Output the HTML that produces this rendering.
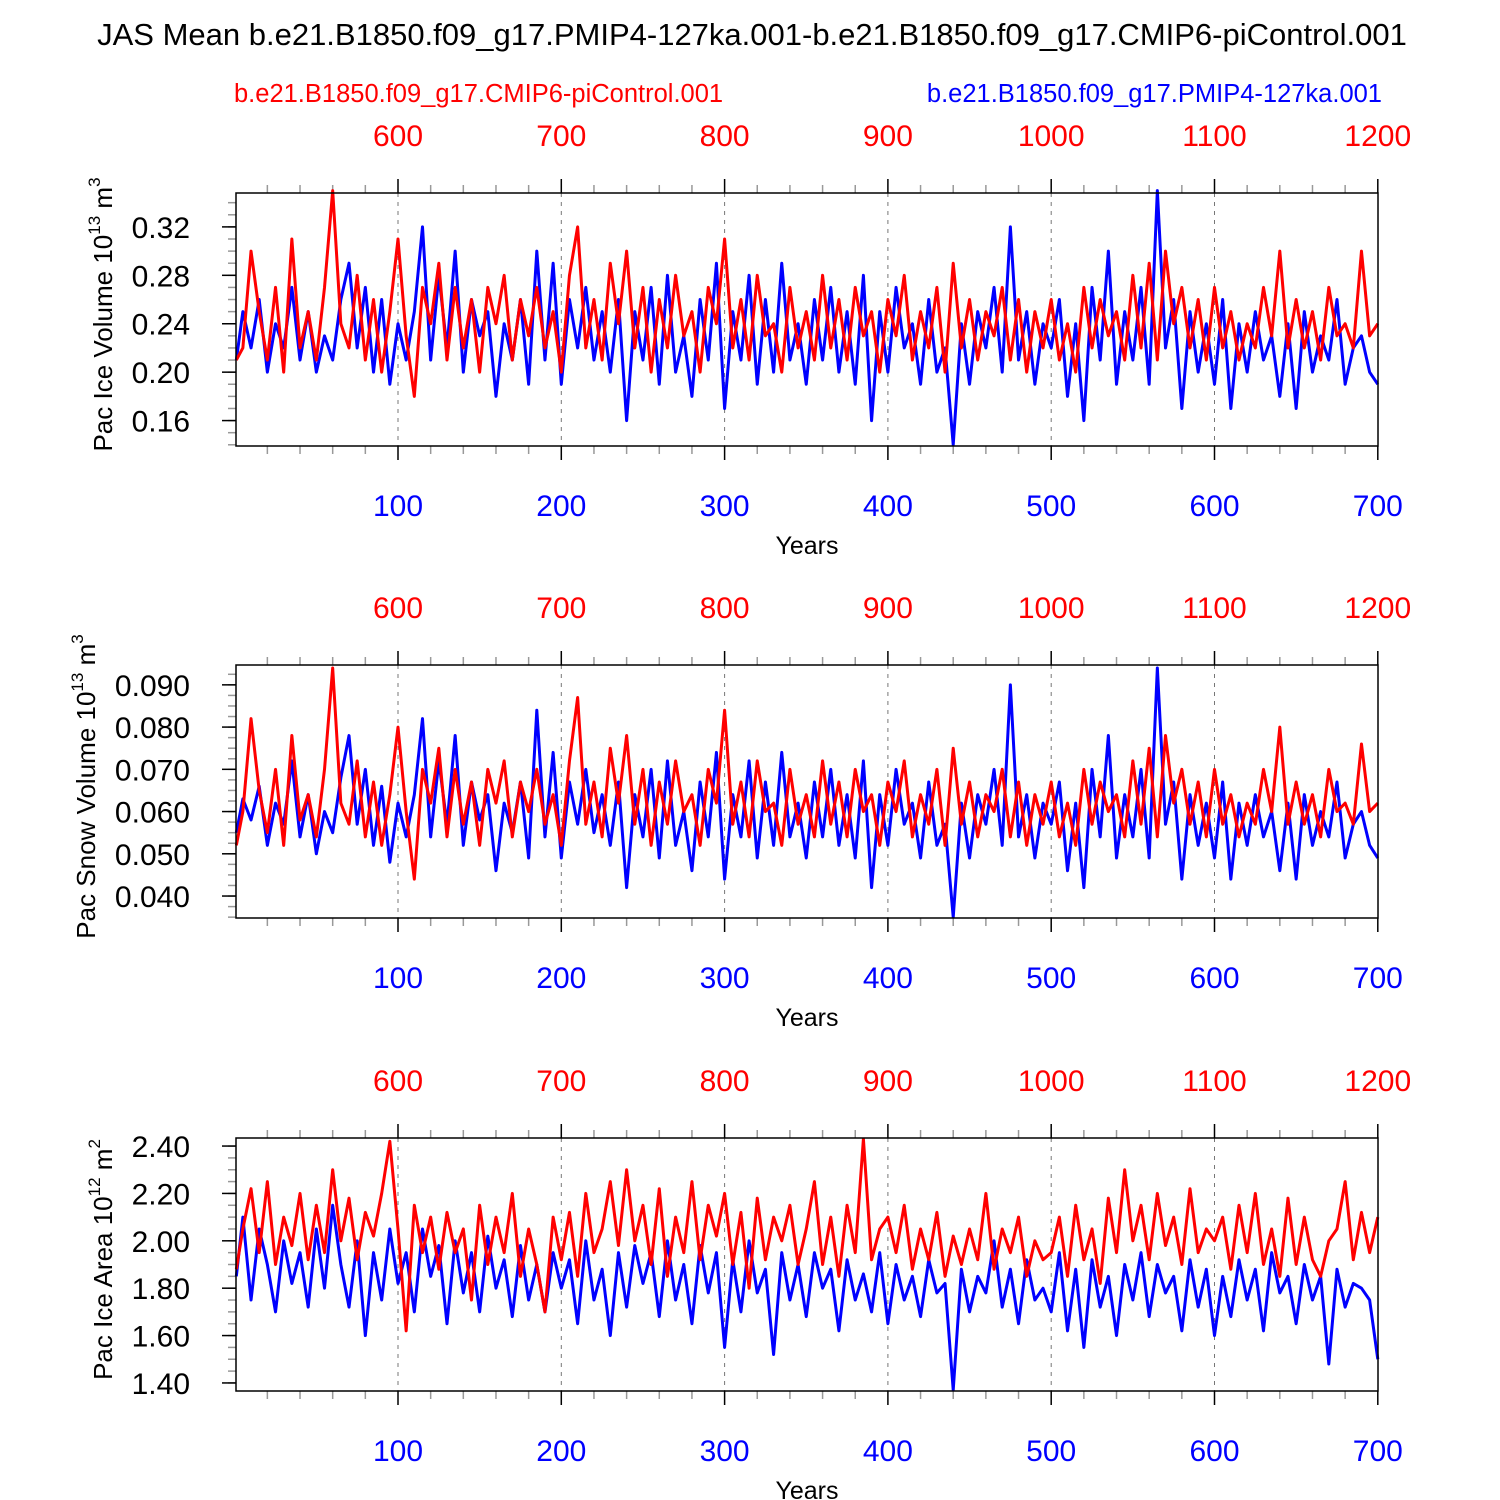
<!DOCTYPE html>
<html><head><meta charset="utf-8"><style>html,body{margin:0;padding:0;background:#fff}svg{display:block}text{font-family:"Liberation Sans",sans-serif}</style></head>
<body>
<svg id="chart" width="1500" height="1500" viewBox="0 0 1500 1500" xmlns="http://www.w3.org/2000/svg">
<text x="752" y="45" font-size="31" text-anchor="middle">JAS Mean b.e21.B1850.f09_g17.PMIP4-127ka.001-b.e21.B1850.f09_g17.CMIP6-piControl.001</text>
<text x="234" y="102" font-size="25.5" fill="#f00">b.e21.B1850.f09_g17.CMIP6-piControl.001</text>
<text x="1382" y="102" font-size="25.5" fill="#00f" text-anchor="end">b.e21.B1850.f09_g17.PMIP4-127ka.001</text>
<g id="panels"></g>
</svg>
<script>
const blueTicks=[100,200,300,400,500,600,700];
const redTicks=[600,700,800,900,1000,1100,1200];
const ice1Blue=[.21,.25,.22,.26,.20,.24,.22,.27,.21,.25,.20,.23,.21,.26,.29,.22,.27,.20,.26,.19,.24,.21,.25,.32,.21,.28,.22,.30,.20,.26,.23,.25,.18,.24,.21,.26,.19,.30,.21,.29,.19,.26,.22,.27,.21,.25,.20,.26,.16,.25,.21,.27,.19,.28,.20,.23,.18,.26,.21,.29,.17,.25,.21,.28,.19,.26,.20,.29,.21,.24,.19,.26,.21,.27,.20,.25,.19,.28,.16,.25,.20,.27,.22,.24,.19,.26,.20,.22,.14,.24,.19,.25,.22,.27,.20,.32,.21,.25,.19,.24,.22,.26,.18,.24,.16,.27,.21,.30,.19,.25,.21,.27,.19,.35,.22,.26,.17,.25,.20,.24,.19,.26,.17,.24,.20,.25,.21,.23,.18,.24,.17,.25,.20,.23,.21,.26,.19,.22,.23,.20,.19];
const ice1Red=[.21,.22,.30,.25,.21,.27,.20,.31,.22,.25,.21,.27,.35,.24,.22,.28,.21,.26,.20,.25,.31,.23,.18,.27,.24,.29,.21,.27,.22,.26,.20,.27,.24,.28,.21,.26,.23,.27,.22,.25,.20,.28,.32,.22,.26,.21,.29,.24,.30,.22,.27,.20,.26,.22,.28,.23,.25,.20,.27,.24,.31,.22,.26,.21,.28,.23,.24,.20,.27,.22,.25,.21,.28,.22,.26,.21,.27,.23,.25,.20,.26,.23,.28,.21,.25,.22,.27,.20,.29,.22,.26,.21,.25,.23,.27,.21,.26,.20,.25,.22,.26,.21,.24,.20,.27,.22,.26,.23,.25,.21,.28,.22,.29,.21,.30,.24,.27,.22,.26,.21,.27,.22,.25,.21,.24,.22,.27,.23,.30,.22,.26,.22,.25,.21,.27,.23,.24,.22,.30,.23,.24];
const snowBlue=[.055,.063,.058,.066,.052,.062,.057,.072,.054,.064,.050,.060,.055,.068,.078,.057,.070,.052,.066,.048,.062,.054,.064,.082,.054,.072,.057,.078,.052,.067,.058,.064,.046,.062,.055,.067,.049,.084,.054,.074,.049,.067,.057,.070,.055,.064,.052,.067,.042,.064,.054,.070,.049,.072,.052,.060,.046,.067,.054,.074,.044,.064,.054,.072,.049,.067,.052,.074,.054,.062,.049,.067,.054,.070,.052,.064,.049,.072,.042,.064,.052,.070,.057,.062,.049,.067,.052,.057,.035,.062,.049,.064,.057,.070,.052,.090,.054,.064,.049,.062,.057,.067,.046,.062,.042,.070,.054,.078,.049,.064,.054,.070,.049,.094,.057,.067,.044,.064,.052,.062,.049,.067,.044,.062,.052,.064,.054,.060,.046,.062,.044,.064,.052,.060,.054,.067,.049,.057,.060,.052,.049];
const snowRed=[.052,.060,.082,.065,.055,.070,.052,.078,.058,.064,.054,.070,.094,.062,.057,.072,.054,.067,.052,.064,.080,.060,.044,.070,.062,.075,.054,.070,.057,.067,.052,.070,.062,.072,.054,.067,.060,.070,.057,.064,.052,.072,.087,.057,.067,.054,.075,.062,.078,.057,.070,.052,.067,.057,.072,.060,.064,.052,.070,.062,.084,.057,.067,.054,.072,.060,.062,.052,.070,.057,.064,.054,.072,.057,.067,.054,.070,.060,.064,.052,.067,.060,.072,.054,.064,.057,.070,.052,.075,.057,.067,.054,.064,.060,.070,.054,.067,.052,.064,.057,.067,.054,.062,.052,.070,.057,.067,.060,.064,.054,.072,.057,.075,.054,.078,.062,.070,.057,.067,.054,.070,.057,.064,.054,.062,.057,.070,.060,.080,.057,.067,.057,.064,.054,.070,.060,.062,.057,.076,.060,.062];
const areaBlue=[1.85,2.10,1.75,2.05,1.90,1.70,2.00,1.82,1.95,1.72,2.05,1.80,2.15,1.90,1.72,2.00,1.60,1.95,1.75,2.05,1.82,1.95,1.70,2.05,1.85,1.98,1.65,2.00,1.78,1.95,1.70,2.02,1.80,1.92,1.68,1.98,1.75,1.90,1.70,1.95,1.80,1.92,1.65,2.00,1.75,1.88,1.60,1.95,1.72,1.98,1.82,1.95,1.68,2.00,1.75,1.90,1.65,1.98,1.78,1.95,1.55,1.92,1.70,2.00,1.78,1.88,1.52,1.95,1.75,1.90,1.68,1.95,1.80,1.88,1.62,1.92,1.75,1.86,1.70,1.95,1.65,1.90,1.75,1.85,1.68,1.92,1.78,1.82,1.37,1.88,1.70,1.85,1.78,2.00,1.72,1.88,1.65,1.92,1.75,1.80,1.70,1.95,1.62,1.88,1.55,1.92,1.72,1.85,1.60,1.90,1.75,1.95,1.68,1.90,1.78,1.85,1.62,1.92,1.72,1.88,1.60,1.85,1.68,1.92,1.75,1.88,1.62,1.95,1.78,1.85,1.65,1.90,1.75,1.85,1.48,1.88,1.72,1.82,1.80,1.75,1.50];
const areaRed=[1.88,2.05,2.22,1.95,2.25,1.90,2.10,1.98,2.20,1.92,2.15,1.95,2.30,2.00,2.18,1.92,2.12,2.02,2.20,2.42,2.05,1.62,2.15,1.95,2.10,1.88,2.12,1.95,2.05,1.75,2.15,1.90,2.10,1.95,2.20,1.85,2.05,1.90,1.70,2.10,1.92,2.12,1.85,2.20,1.95,2.05,2.25,1.98,2.30,2.00,2.15,1.90,2.22,1.85,2.10,1.95,2.25,1.92,2.15,2.02,2.20,1.90,2.12,1.80,2.18,1.92,2.10,2.00,2.15,1.90,2.05,2.25,1.90,2.10,1.85,2.15,1.95,2.43,1.92,2.05,2.10,1.95,2.15,1.88,2.05,1.92,2.12,1.85,2.02,1.90,2.05,1.92,2.20,1.88,2.05,1.95,2.10,1.85,2.00,1.92,1.95,2.10,1.85,2.15,1.92,2.05,1.82,2.18,1.95,2.30,2.00,2.15,1.92,2.20,1.98,2.10,1.90,2.22,1.95,2.05,2.00,2.10,1.88,2.15,1.95,2.20,1.90,2.05,1.85,2.18,1.90,2.10,1.92,1.85,2.00,2.05,2.25,1.92,2.12,1.95,2.10];
const ice1Ticks=[0.16,0.20,0.24,0.28,0.32];
const snowTicks=[0.040,0.050,0.060,0.070,0.080,0.090];
const areaTicks=[1.40,1.60,1.80,2.00,2.20,2.40];

const NS="http://www.w3.org/2000/svg";
const L=236,R=1378,H=253;
const X=y=>234.7+(y/100)*163.3;
function mk(tag,attrs,parent,txt){const e=document.createElementNS(NS,tag);for(const k in attrs)e.setAttribute(k,attrs[k]);if(txt!==undefined)e.textContent=txt;parent.appendChild(e);return e;}
const root=document.getElementById('panels');
const panels=[
 {top:193,min:0.139,max:0.348,ticks:ice1Ticks,minor:0.01,dec:2,blue:ice1Blue,red:ice1Red,lab:"Pac Ice Volume 10",sup:"13",unit:" m",usup:"3",name:"ice-volume",tx:112},
 {top:665,min:0.0348,max:0.0947,ticks:snowTicks,minor:0.0025,dec:3,blue:snowBlue,red:snowRed,lab:"Pac Snow Volume 10",sup:"13",unit:" m",usup:"3",name:"snow-volume",tx:95},
 {top:1138,min:1.366,max:2.434,ticks:areaTicks,minor:0.05,dec:2,blue:areaBlue,red:areaRed,lab:"Pac Ice Area 10",sup:"12",unit:" m",usup:"2",name:"ice-area",tx:112}
];
panels.forEach(p=>{
 const g=mk('g',{},root);
 
 
 const B=p.top+H;
 const Y=v=>B-(v-p.min)/(p.max-p.min)*H;
 blueTicks.slice(0,6).forEach(t=>{const l=mk('line',{x1:X(t),x2:X(t),y1:p.top,y2:B,stroke:'#777','stroke-width':1,'stroke-dasharray':'4,5'},g);});
 for(let t=20;t<=700;t+=20){if(t%100===0)continue;mk('line',{x1:X(t),x2:X(t),y1:B,y2:B+8,stroke:'#999','stroke-width':1.5},g);mk('line',{x1:X(t),x2:X(t),y1:p.top,y2:p.top-8,stroke:'#999','stroke-width':1.5},g);}
 blueTicks.forEach(t=>{mk('line',{x1:X(t),x2:X(t),y1:B,y2:B+14,stroke:'#000','stroke-width':1.5},g);
  const tx=mk('text',{x:X(t),y:B+70,'font-size':30,fill:'#00f','text-anchor':'middle'},g,String(t));});
 redTicks.forEach(t=>{const xx=X(t-500);mk('line',{x1:xx,x2:xx,y1:p.top,y2:p.top-14,stroke:'#000','stroke-width':1.5},g);
  const tx=mk('text',{x:xx,y:p.top-47,'font-size':30,fill:'#f00','text-anchor':'middle'},g,String(t));});
 const first=Math.ceil(p.min/p.minor-1e-6);
 for(let k=first;k*p.minor<=p.max+1e-9;k++){const v=k*p.minor;mk('line',{x1:L-8,x2:L,y1:Y(v),y2:Y(v),stroke:'#999','stroke-width':1.5},g);}
 p.ticks.forEach(v=>{mk('line',{x1:L-14,x2:L,y1:Y(v),y2:Y(v),stroke:'#000','stroke-width':1.5},g);
  const tx=mk('text',{x:190,y:Y(v)+11,'font-size':30,'text-anchor':'end'},g,v.toFixed(p.dec));});
 [[p.blue,'#00f','series-127ka'],[p.red,'#f00','series-picontrol']].forEach(([arr,c,n])=>{
  const pts=arr.map((v,i)=>X(Math.max(1,Math.min(700,i*5)))+','+Y(v)).join(' ');
  const pl=mk('polyline',{points:pts,fill:'none',stroke:c,'stroke-width':3,'stroke-linejoin':'round'},g);
  });
 const fr=mk('rect',{x:L,y:p.top,width:R-L,height:H,fill:'none',stroke:'#000','stroke-width':1.5},g);
 
 const xt=mk('text',{x:807,y:B+108,'font-size':25,'text-anchor':'middle'},g,'Years');
 
 const cy=p.top+H/2-5;
 const yt=mk('text',{x:0,y:0,'font-size':26,'text-anchor':'middle',transform:`translate(${p.tx},${cy}) rotate(-90)`},g);
 
 mk('tspan',{},yt,p.lab);mk('tspan',{'font-size':17,dy:-12},yt,p.sup);mk('tspan',{dy:12},yt,p.unit);mk('tspan',{'font-size':17,dy:-12},yt,p.usup);
});
</script>
</body></html>
